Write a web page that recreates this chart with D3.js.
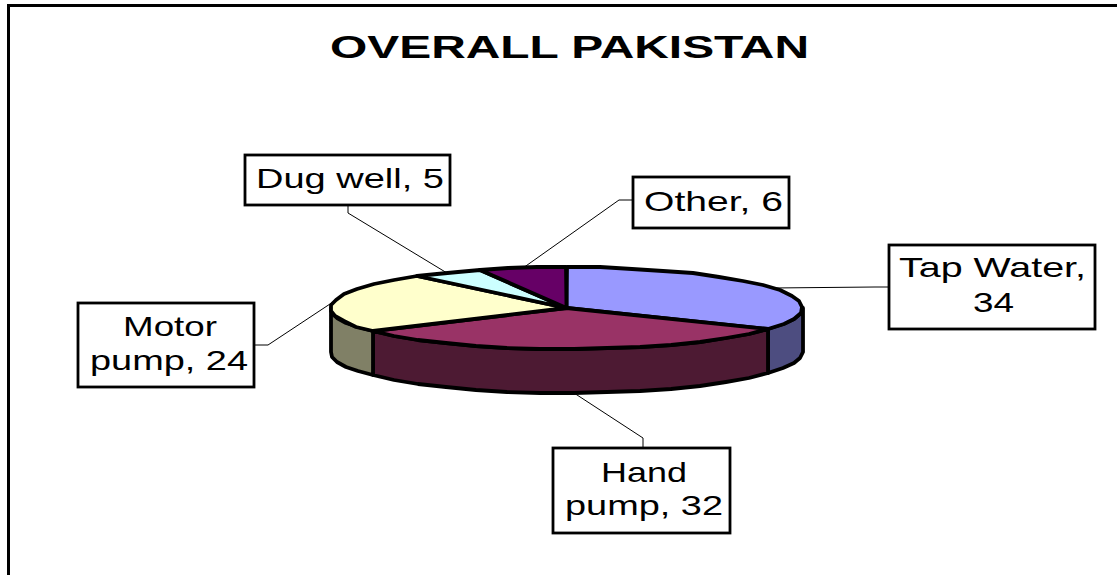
<!DOCTYPE html>
<html>
<head>
<meta charset="utf-8">
<script src="https://cdn.jsdelivr.net/npm/d3@7"></script>
<style>
html,body{margin:0;padding:0;background:#fff;overflow:hidden}
svg{display:block}
text{font-family:"Liberation Sans",Arial,sans-serif;fill:#000}
</style>
</head>
<body>
<svg id="chart" width="1117" height="575"></svg>
<script>
// Data
const categories = ["Tap Water", "Hand pump", "Motor pump", "Dug well", "Other"];
const values = [34, 32, 24, 5, 6];
const chartTitle = "OVERALL PAKISTAN";

// Styles
const topColors = ["#9999FF", "#993366", "#FFFFCC", "#CCFFFF", "#660066"];
const sideColors = ["#4D4D80", "#4D1A33", "#808066", "#668080", "#330033"];

// Label box layout: box; wrapped lines with text extents; elbow point
const labelLayout = [
  {box:[889,245,1095,329], lines:[{n:"Tap Water,",x:[899,1086],y:277},{n:"34",x:[973,1014],y:312}], elbow:[[875,287],[889,287]]},
  {box:[553,448,730,533], lines:[{n:"Hand",x:[601,687],y:482},{n:"pump, 32",x:[565,723],y:515}], elbow:[[643,438],[643,448]]},
  {box:[78,303,254,387], lines:[{n:"Motor",x:[123,217],y:336},{n:"pump, 24",x:[90,248],y:370}], elbow:[[268,345],[254,345]]},
  {box:[245,155,450,205], lines:[{n:"Dug well, 5",x:[256,444],y:188}], elbow:[[348,213],[348,205]]},
  {box:[633,177,789,228], lines:[{n:"Other, 6",x:[644,783],y:211}], elbow:[[619,200],[633,200]]}
];

const svg = d3.select("#chart");

// Outer frame (right and bottom are cut off by the picture)
svg.append("path").attr("d", d3.line()([[8.5,575],[8.5,5.5],[1117,5.5]]))
  .attr("fill","none").attr("stroke","#000").attr("stroke-width",3);

// Title
svg.append("text").attr("x",330).attr("y",58).attr("font-size",32).attr("font-weight","bold")
  .attr("textLength",479).attr("lengthAdjust","spacingAndGlyphs").text(chartTitle);

// Pie geometry
const cx = 566.5, cy = 308, depth = 44;
const sx = d3.scaleLinear().domain([-1,1]).range([cx-236, cx+236]);
const sy = d3.scaleLinear().domain([-1,1]).range([cy-41, cy+41]);
const pt = (a, dz=0) => [Math.round(sx(Math.sin(a))), Math.round(sy(-Math.cos(a))) + dz];
const STEP = Math.PI/22;
function arcPts(a0, a1, dz=0){
  const out = [];
  const n = Math.max(1, Math.ceil((a1-a0)/STEP));
  for(let i=0;i<=n;i++) out.push(pt(a0+(a1-a0)*i/n, dz));
  return out;
}
const pie = d3.pie().sort(null).value(d=>d)(values);
const line = d3.line();
const stroke = {stroke:"#000","stroke-width":3.8,"stroke-linejoin":"round"};
const applyStroke = s => { for(const k in stroke) s.attr(k, stroke[k]); return s; };

// Leader lines
pie.forEach((s,i)=>{
  const mid = (s.startAngle+s.endAngle)/2;
  const visibleFront = Math.cos(mid) < 0;
  const anchor = pt(mid, visibleFront ? depth : 0);
  const L = labelLayout[i];
  svg.append("path").attr("d", line([anchor, ...L.elbow]))
    .attr("fill","none").attr("stroke","#000").attr("stroke-width",1);
});

// Side wall: only the front half of the disc is visible
pie.forEach((s,i)=>{
  const a0 = Math.max(s.startAngle, Math.PI/2), a1 = Math.min(s.endAngle, 3*Math.PI/2);
  if(a1 <= a0) return;
  const upper = arcPts(a0,a1), lower = arcPts(a0,a1,depth).reverse();
  applyStroke(svg.append("path").attr("d", line([...upper,...lower])+"Z").attr("fill",sideColors[i]));
});

// Top faces
pie.forEach((s,i)=>{
  const pts = [[cx,cy], ...arcPts(s.startAngle,s.endAngle)];
  applyStroke(svg.append("path").attr("d", line(pts)+"Z").attr("fill",topColors[i]));
});

// Label boxes
labelLayout.forEach(L=>{
  const [x0,y0,x1,y1] = L.box;
  svg.append("rect").attr("x",x0).attr("y",y0).attr("width",x1-x0).attr("height",y1-y0)
    .attr("fill","#fff").attr("stroke","#000").attr("stroke-width",2.8);
  L.lines.forEach(t=>{
    svg.append("text").attr("x",t.x[0]).attr("y",t.y).attr("font-size",28.5)
      .attr("textLength",t.x[1]-t.x[0]).attr("lengthAdjust","spacingAndGlyphs").text(t.n);
  });
});
</script>
</body>
</html>
